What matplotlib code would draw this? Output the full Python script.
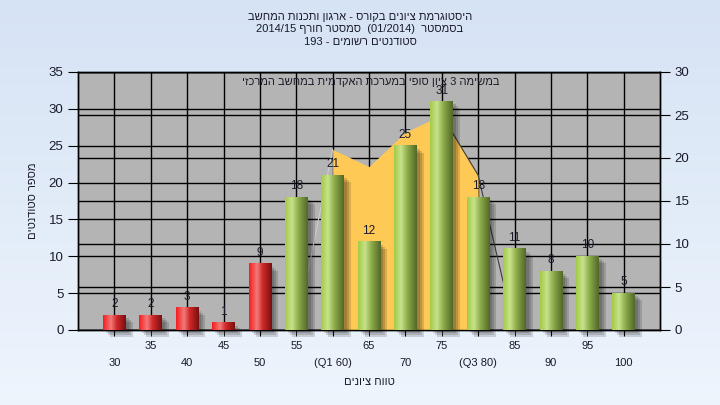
import re

import numpy as np
import matplotlib
matplotlib.use("Agg")
import matplotlib.pyplot as plt
import matplotlib.transforms as mtransforms
from matplotlib.colors import LinearSegmentedColormap
from matplotlib.patches import Rectangle

plt.rcParams['font.family'] = ['Liberation Sans', 'DejaVu Sans']

# data
bins = [30, 35, 40, 45, 50, 55, 60, 65, 70, 75, 80, 85, 90, 95, 100]
counts = [2, 2, 3, 1, 9, 18, 21, 12, 25, 31, 18, 11, 8, 10, 5]
tick_labels = ['30', '35', '40', '45', '50', '55', '(Q1 60)', '65', '70',
               '75', '(Q3 80)', '85', '90', '95', '100']
pass_grade = 55
area_x = [55, 60, 65, 70, 75, 80, 85]
area_vals = [0, 21, 19, 23, 25, 18, 0]
q1, q3 = 60, 80

title_lines = [
    "היסטוגרמת ציונים בקורס - ארגון ותכנות המחשב",
    "בסמסטר  (01/2014)  סמסטר חורף 2014/15",
    "סטודנטים רשומים - 193",
]
note = "במשימה 3 ציון סופי במערכת האקדמית במחשב המרכזי"
ylabel = "מספר סטודנטים"
xlabel = "טווח ציונים"

LTR = r'[0-9A-Za-z/.()]'


def rtl(s):
    # matplotlib has no bidi support: put hebrew text in visual order
    tokens = re.findall(LTR + r'+|[^0-9A-Za-z/.()]+', s)
    out = []
    for t in reversed(tokens):
        out.append(t if re.match(LTR, t) else t[::-1])
    return ''.join(out)


fig = plt.figure(figsize=(7.2, 4.05), dpi=100)

# light blue background gradient
bg = fig.add_axes([0, 0, 1, 1], zorder=-10)
top = np.array([0.84, 0.89, 0.96])
bottom = np.array([0.93, 0.96, 0.99])
t = np.linspace(0, 1, 256)[:, None, None]
bg.imshow(top + (bottom - top) * t, aspect='auto', extent=[0, 1, 0, 1])
bg.axis('off')

rect = [78 / 720, 1 - 330 / 405, 582 / 720, 258 / 405]
ax = fig.add_axes(rect)
ax_r = ax.twinx()
ax.set_zorder(2)
ax_r.set_zorder(1)
ax.patch.set_visible(False)
ax_r.patch.set_visible(True)
ax_r.patch.set_facecolor('#B4B4B4')

# right axis
ax_r.set_ylim(0, 30)
ax_r.set_yticks(range(0, 31, 5))
ax_r.grid(axis='y', color='black', lw=1)
ax_r.tick_params(axis='y', direction='out', length=7, labelsize=9.5,
                 colors='black', labelcolor='#1a1a2a')

# left axis grid
ax.set_axisbelow(True)
ax.set_xticks(bins[::2], labels=tick_labels[::2])
ax.set_xticks(bins[1::2], labels=tick_labels[1::2], minor=True)
ax.grid(axis='both', which='both', color='black', lw=1)
ax.tick_params(axis='x', which='both', direction='out', length=4,
               labelsize=8, labelcolor='#1a1a2a')
ax.tick_params(axis='x', which='major', pad=16)
ax.tick_params(axis='x', which='minor', pad=4)
ax.tick_params(axis='y', direction='out', length=7, labelsize=9.5,
               labelcolor='#1a1a2a')
ax.set_yticks(range(0, 36, 5))

# area between quartiles (right axis)
ax_arr = np.array(area_x)
mask = (ax_arr >= q1) & (ax_arr <= q3)
ax.fill_between(area_x, area_vals, where=mask, color='#FFC955', lw=0,
                transform=ax_r.transData, zorder=1)
i1 = area_x.index(q1)
ax.plot(area_x[:i1 + 1], area_vals[:i1 + 1], color='#cdcdcd', lw=0.8,
        transform=ax_r.transData, zorder=1.2)
i_peak = int(np.argmax(area_vals))
ax.plot(area_x[i_peak:], area_vals[i_peak:], color='#3c3c3c', lw=0.8,
        transform=ax_r.transData, zorder=1.2)

# bars
width = 3.1
bars = ax.bar(bins, counts, width=width, color='none', lw=0, zorder=3)

red = LinearSegmentedColormap.from_list(
    'red', [(0, '#F41E1E'), (0.35, '#F27A7A'), (0.6, '#D02828'), (1, '#781010')])
green = LinearSegmentedColormap.from_list(
    'green', [(0, '#A2CA46'), (0.3, '#C8E28C'), (0.6, '#8AAA48'), (1, '#526828')])
grad = np.linspace(0, 1, 64)[None, :]

for b, x in zip(bars, bins):
    x0, w, h = b.get_x(), b.get_width(), b.get_height()
    for off in (3, 5, 7):
        tr = mtransforms.offset_copy(ax.transData, fig=fig, x=off, y=-off,
                                     units='dots')
        ax.add_patch(Rectangle((x0, 0), w, h, transform=tr, color='black',
                               alpha=0.14, lw=0, zorder=2.5, clip_on=False))
    cmap = red if x < pass_grade else green
    ax.imshow(grad, cmap=cmap, extent=[x0, x0 + w, 0, h], aspect='auto',
              interpolation='bilinear', zorder=3)

ax.bar_label(bars, padding=3.5, fontsize=8.5, color='#1a1a2a')

ax.set_xlim(25, 105)
ax.set_ylim(0, 35)

for a in (ax, ax_r):
    for s in a.spines.values():
        s.set_color('black')
        s.set_linewidth(1)

ax.text(0.503, 0.961, rtl(note), transform=ax.transAxes, ha='center',
        va='center', fontsize=8, color='#1a1a2a', zorder=5)

ax.set_ylabel(rtl(ylabel), fontsize=8, color='#1a1a2a')
ax.yaxis.set_label_coords(-0.068, 0.5)
ax.set_xlabel(rtl(xlabel), fontsize=8, color='#1a1a2a', va='center')
ax.xaxis.set_label_coords(0.5, -0.2)

for i, line in enumerate(title_lines):
    fig.text(0.5, 1 - (17 + 12.5 * i) / 405, rtl(line), ha='center',
             va='center', fontsize=8, color='#1a1a2a')

fig.savefig('out.png', dpi=100)
